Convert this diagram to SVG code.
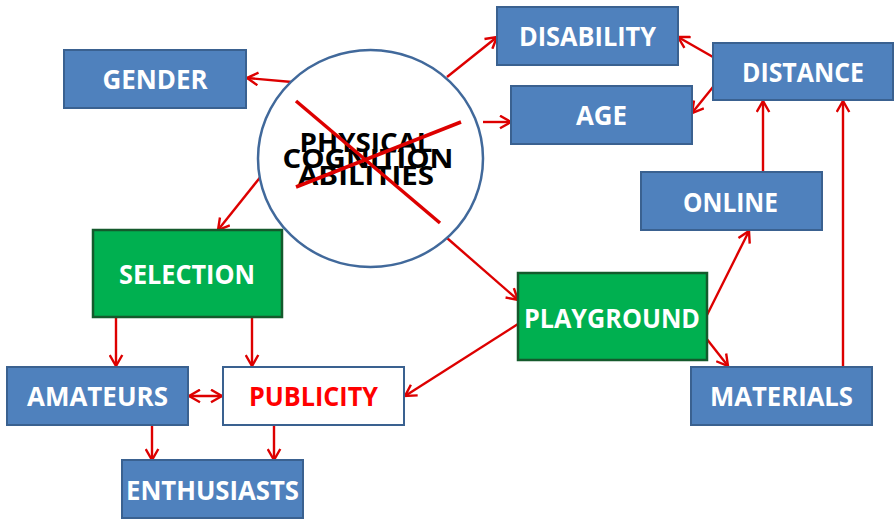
<svg xmlns="http://www.w3.org/2000/svg" width="894" height="519" viewBox="0 0 894 519">
  <style>
    .blue rect { fill: #4F81BD; stroke: #3A6190; stroke-width: 2; }
    .green rect { fill: #00B050; stroke: #145A2C; stroke-width: 2.5; }
    .white rect { fill: #FFFFFF; stroke: #3A6190; stroke-width: 2; }
    .lbl { font-family: "Open Sans", "Liberation Sans", sans-serif; font-weight: 700; font-size: 27px; fill: #FFFFFF; text-anchor: middle; }
    .red { fill: #FF0000; }
    .dark { fill: #000000; }
    .conn line { stroke: #DD0000; stroke-width: 2.4; fill: none; marker-end: url(#arr); }
    .cross line { stroke: #DD0000; stroke-width: 3.5; }
  </style>
  <defs>
    <marker id="arr" viewBox="0 0 13 15" refX="12" refY="7.5" markerWidth="13" markerHeight="15" markerUnits="userSpaceOnUse" orient="auto-start-reverse">
      <path d="M1,1.2 L12,7.5 L1,13.8" fill="none" stroke="#DD0000" stroke-width="2.4"/>
    </marker>
  </defs>

  <rect width="894" height="519" fill="#FFFFFF"/>

  <!-- connectors -->
  <g class="conn" id="connectors">
    <line x1="292" y1="82" x2="247" y2="78"/>
    <line x1="447" y1="77" x2="497" y2="37"/>
    <line x1="483" y1="122" x2="511" y2="122"/>
    <line x1="262" y1="175" x2="218" y2="230"/>
    <line x1="447" y1="238" x2="518" y2="300"/>
    <line x1="518" y1="324" x2="405" y2="396"/>
    <line x1="707" y1="315" x2="749" y2="231"/>
    <line x1="706" y1="338" x2="728" y2="366"/>
    <line x1="763" y1="172" x2="763" y2="101"/>
    <line x1="843" y1="367" x2="843" y2="101"/>
    <line x1="713" y1="57" x2="678" y2="37"/>
    <line x1="713" y1="87" x2="692" y2="113"/>
    <line x1="116" y1="317" x2="116" y2="366"/>
    <line x1="252" y1="317" x2="252" y2="366"/>
    <line x1="189" y1="396" x2="222" y2="396" marker-start="url(#arr)"/>
    <line x1="152" y1="425" x2="152" y2="460"/>
    <line x1="274" y1="425" x2="274" y2="460"/>
  </g>

  <!-- central crossed-out circle -->
  <g id="abilities">
    <ellipse cx="370.5" cy="158.5" rx="112.5" ry="108.5" fill="#FFFFFF" stroke="#41699B" stroke-width="2.5"/>
    <text class="lbl dark" x="366" y="152" textLength="133" lengthAdjust="spacingAndGlyphs">PHYSICAL</text>
    <text class="lbl dark" x="368" y="168" textLength="171" lengthAdjust="spacingAndGlyphs">COGNITION</text>
    <text class="lbl dark" x="366" y="185" textLength="136" lengthAdjust="spacingAndGlyphs">ABILITIES</text>
    <g class="cross">
      <line x1="296" y1="101" x2="440" y2="223"/>
      <line x1="296" y1="187" x2="461" y2="122"/>
    </g>
  </g>

  <g id="gender" class="blue">
    <rect x="64" y="50" width="182" height="58"/>
    <text class="lbl" x="155" y="89" textLength="105" lengthAdjust="spacingAndGlyphs">GENDER</text>
  </g>
  <g id="disability" class="blue">
    <rect x="497" y="7" width="181" height="58"/>
    <text class="lbl" x="587.5" y="46" textLength="137" lengthAdjust="spacingAndGlyphs">DISABILITY</text>
  </g>
  <g id="age" class="blue">
    <rect x="511" y="86" width="181" height="58"/>
    <text class="lbl" x="601.5" y="125" textLength="51" lengthAdjust="spacingAndGlyphs">AGE</text>
  </g>
  <g id="distance" class="blue">
    <rect x="713" y="43" width="180" height="57"/>
    <text class="lbl" x="803" y="82" textLength="122" lengthAdjust="spacingAndGlyphs">DISTANCE</text>
  </g>
  <g id="online" class="blue">
    <rect x="641" y="172" width="181" height="58"/>
    <text class="lbl" x="730.5" y="212" textLength="95" lengthAdjust="spacingAndGlyphs">ONLINE</text>
  </g>
  <g id="playground" class="green">
    <rect x="518" y="273" width="189" height="87"/>
    <text class="lbl" x="612" y="328" textLength="176" lengthAdjust="spacingAndGlyphs">PLAYGROUND</text>
  </g>
  <g id="materials" class="blue">
    <rect x="691" y="367" width="181" height="58"/>
    <text class="lbl" x="781.5" y="406" textLength="143" lengthAdjust="spacingAndGlyphs">MATERIALS</text>
  </g>
  <g id="selection" class="green">
    <rect x="93" y="230" width="189" height="87"/>
    <text class="lbl" x="187" y="284" textLength="136" lengthAdjust="spacingAndGlyphs">SELECTION</text>
  </g>
  <g id="amateurs" class="blue">
    <rect x="7" y="367" width="181" height="58"/>
    <text class="lbl" x="97.5" y="406" textLength="141" lengthAdjust="spacingAndGlyphs">AMATEURS</text>
  </g>
  <g id="publicity" class="white">
    <rect x="223" y="367" width="181" height="58"/>
    <text class="lbl red" x="313.5" y="406" textLength="129" lengthAdjust="spacingAndGlyphs">PUBLICITY</text>
  </g>
  <g id="enthusiasts" class="blue">
    <rect x="122" y="460" width="181" height="58"/>
    <text class="lbl" x="212.5" y="500" textLength="173" lengthAdjust="spacingAndGlyphs">ENTHUSIASTS</text>
  </g>
</svg>
